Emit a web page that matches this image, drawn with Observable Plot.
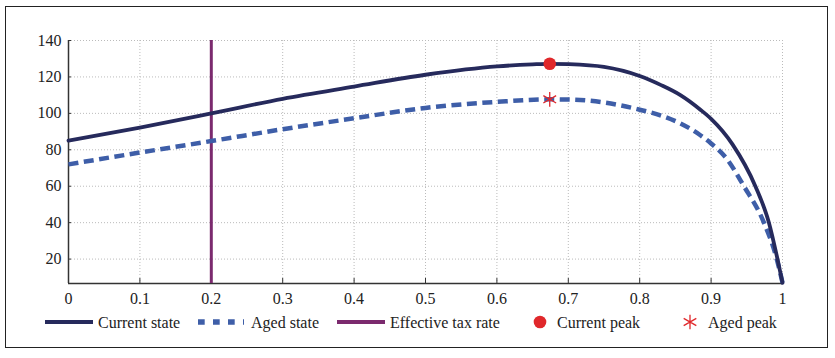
<!DOCTYPE html>
<html>
<head>
<meta charset="utf-8">
<script src="https://cdn.jsdelivr.net/npm/d3@7"></script>
<script src="https://cdn.jsdelivr.net/npm/@observablehq/plot@0.6"></script>
<style>
  html, body { margin: 0; padding: 0; background: #fff; }
  #wrap { position: relative; width: 835px; height: 358px; font-family: 'Liberation Serif', 'Times New Roman', 'DejaVu Serif', serif; }
  #frame { position: absolute; left: 5px; top: 6px; width: 821px; height: 340px; border: 1.5px solid #222; box-sizing: content-box; }
  #chart { position: absolute; left: 0; top: 0; }
  #legend { position: absolute; left: 0; top: 310px; width: 835px; height: 26px; }
  svg text { font-family: 'Liberation Serif', 'Times New Roman', 'DejaVu Serif', serif !important; }
</style>
</head>
<body>
<div id="wrap">
  <div id="frame"></div>
  <div id="chart"></div>
  <svg id="legend" width="835" height="26"></svg>
</div>
<script>
// Tax rate (x) and revenue (y)
const currentRate = [0, 0.1, 0.2, 0.3, 0.4, 0.5, 0.6, 0.65, 0.674, 0.7, 0.75, 0.8, 0.83, 0.857, 0.885, 0.9, 0.93, 0.962, 0.981, 0.993, 1];
const currentRev  = [85, 92.2, 100, 108, 114.7, 121.2, 125.8, 126.9, 127.2, 127, 125.5, 120.5, 115.5, 110, 102, 97, 83, 60, 40, 20, 7];
const agedRate = [0, 0.1, 0.2, 0.3, 0.4, 0.5, 0.6, 0.674, 0.7, 0.75, 0.8, 0.83, 0.857, 0.885, 0.9, 0.922, 0.946, 0.974, 0.992, 1];
const agedRev  = [72, 78.5, 84.8, 91.3, 97.3, 103, 106.3, 107.7, 107.6, 106, 102, 98.8, 94.5, 88, 83.5, 75, 60, 40, 20, 7];
const effectiveRate = [0.2];
const currentPeak = [{rate: 0.674, rev: 127.2}];
const agedPeak = [{rate: 0.674, rev: 107.7}];
const xTicks = [0, 0.1, 0.2, 0.3, 0.4, 0.5, 0.6, 0.7, 0.8, 0.9, 1];
const yTicks = [20, 40, 60, 80, 100, 120, 140];
const legendLabels = ["Current state", "Aged state", "Effective tax rate", "Current peak", "Aged peak"];

const current = currentRate.map((r, i) => ({rate: r, rev: currentRev[i]}));
const aged = agedRate.map((r, i) => ({rate: r, rev: agedRev[i]}));

const cNavy = "#262a5c", cBlue = "#3e5ea8", cPurple = "#7b2a6e", cRed = "#e0282b";
const yMin = 6.6, yMax = 140;
const serif = "'Liberation Serif', 'Times New Roman', 'DejaVu Serif', serif";

const plot = Plot.plot({
  width: 835,
  height: 310,
  marginLeft: 68,
  marginRight: 53,
  marginTop: 40,
  marginBottom: 27,
  style: {fontFamily: serif, fontSize: "16px", color: "#222", background: "transparent"},
  x: {domain: [0, 1], ticks: xTicks, label: null},
  y: {domain: [yMin, yMax], ticks: yTicks, label: null},
  marks: [
    Plot.gridX(xTicks.filter(d => d > 0), {stroke: "#bbb", strokeOpacity: 1, strokeDasharray: "1,2", strokeWidth: 1}),
    Plot.gridY(yTicks, {stroke: "#bbb", strokeOpacity: 1, strokeDasharray: "1,2", strokeWidth: 1}),
    Plot.axisX({ticks: xTicks, tickSize: -5, tickPadding: 14, tickFormat: d => String(d), stroke: "#333", fill: "#222", fontSize: 16}),
    Plot.axisY({ticks: yTicks, tickSize: -3, tickPadding: 10, tickFormat: d => String(d), stroke: "#333", fill: "#222", fontSize: 16}),
    Plot.ruleX([0], {stroke: "#333", strokeWidth: 1.5}),
    Plot.ruleY([yMin], {stroke: "#333", strokeWidth: 1.5}),
    Plot.ruleX(effectiveRate, {y1: yMin, y2: yMax, stroke: cPurple, strokeWidth: 3}),
    Plot.line(aged, {x: "rate", y: "rev", stroke: cBlue, strokeWidth: 4.5, strokeDasharray: "10,5.5", strokeLinecap: "butt", curve: "monotone-x"}),
    Plot.line(current, {x: "rate", y: "rev", stroke: cNavy, strokeWidth: 3.8, curve: "monotone-x"}),
    Plot.dot(currentPeak, {x: "rate", y: "rev", r: 6.3, fill: cRed, stroke: "none"}),
    Plot.dot(agedPeak, {x: "rate", y: "rev", r: 7, symbol: "asterisk", stroke: cRed, strokeWidth: 1.3, fill: "none"})
  ]
});
document.getElementById("chart").appendChild(plot);

// Legend
const lg = d3.select("#legend");
const cy = 12;
function label(x, t) {
  lg.append("text").attr("x", x).attr("y", cy).attr("dy", "0.35em")
    .style("font-family", serif).attr("font-size", 16).attr("fill", "#222").text(t);
}
lg.append("line").attr("x1", 45).attr("x2", 93).attr("y1", cy).attr("y2", cy).attr("stroke", cNavy).attr("stroke-width", 4);
label(98, legendLabels[0]);
lg.append("line").attr("x1", 198).attr("x2", 244).attr("y1", cy).attr("y2", cy).attr("stroke", cBlue).attr("stroke-width", 5.5).attr("stroke-dasharray", "6.7,8.3");
label(251, legendLabels[1]);
lg.append("line").attr("x1", 337).attr("x2", 385).attr("y1", cy).attr("y2", cy).attr("stroke", cPurple).attr("stroke-width", 4);
label(390, legendLabels[2]);
lg.append("circle").attr("cx", 540).attr("cy", cy).attr("r", 6.3).attr("fill", cRed);
label(557, legendLabels[3]);
lg.append("path").attr("transform", `translate(690,${cy})`).attr("d", d3.symbol(d3.symbolAsterisk, 150)()).attr("stroke", cRed).attr("stroke-width", 1.3).attr("fill", "none");
label(708, legendLabels[4]);
</script>
</body>
</html>
